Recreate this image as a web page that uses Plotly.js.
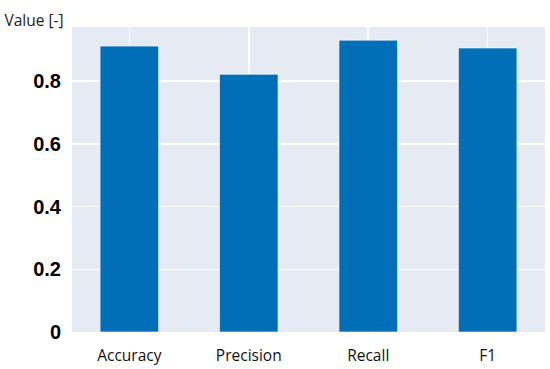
<!DOCTYPE html>
<html>
<head>
<meta charset="utf-8">
<script src="https://cdn.plot.ly/plotly-3.0.1.min.js"></script>
<style>html,body{margin:0;padding:0;background:#fff}#chart{width:550px;height:369px}</style>
</head>
<body>
<div id="chart"></div>
<script>
const categories = ["Accuracy", "Precision", "Recall", "F1"];
const values = [0.912, 0.822, 0.931, 0.906];
const yTickVals = [0, 0.2, 0.4, 0.6, 0.8];
const yTickText = ["0", "0.2", "0.4", "0.6", "0.8"];

const trace = {
  type: "bar",
  x: categories,
  y: values,
  width: 0.49,
  marker: {color: "#006fb8", line: {color: "rgba(255,255,255,0.6)", width: 1}},
  hoverinfo: "none"
};

const layout = {
  width: 550, height: 369,
  margin: {l: 72, r: 5, t: 27, b: 37},
  paper_bgcolor: "#ffffff",
  plot_bgcolor: "#e6eaf3",
  showlegend: false,
  title: {text: "Value [-]", x: 0.008, xanchor: "left", xref: "container", y: 0.945, yanchor: "middle", yref: "container",
          font: {family: "Open Sans, Noto Sans, sans-serif", size: 15.5, color: "#222"}},
  xaxis: {
    range: [-0.48, 3.48],
    showgrid: true, gridcolor: "#ffffff", gridwidth: 1.5,
    zeroline: false, showline: false, ticks: "",
    ticklabelstandoff: 12,
    tickfont: {family: "Open Sans, Noto Sans, sans-serif", size: 15.5, color: "#111"}
  },
  yaxis: {
    range: [0, 0.973],
    tickvals: yTickVals, ticktext: yTickText,
    showgrid: true, gridcolor: "#ffffff", gridwidth: 1.5,
    zeroline: false, showline: false, ticks: "",
    ticklabelstandoff: 10,
    tickfont: {family: "Liberation Sans, Arial, sans-serif", size: 20, color: "#000", weight: "bold"}
  }
};

Plotly.newPlot("chart", [trace], layout, {staticPlot: true, displayModeBar: false});
</script>
</body>
</html>
